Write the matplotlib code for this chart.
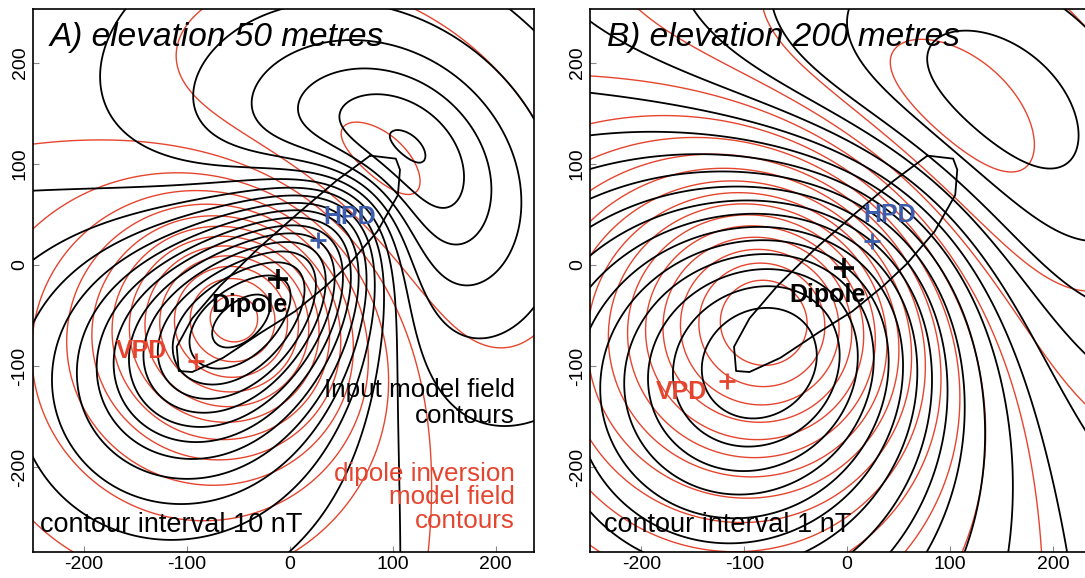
import numpy as np
import matplotlib
matplotlib.use("Agg")
import matplotlib.pyplot as plt
from matplotlib.path import Path

# outline of the input model body (metres)
body_x = [78, 103, 107, 105, 85, 58, 35, 5, -28, -65, -95, -108, -110, -95, -68, -32, 8, 45, 78]
body_y = [108, 105, 94, 69, 33, 1, -21, -46, -67, -92, -106, -105, -81, -53, -21, 15, 51, 83, 108]

# input model: thin plate, depth below ground at SW and NE ends (m)
body_depth_sw = 105
body_depth_ne = 60
body_inc = 35
# peak of the input model field at each elevation (nT)
body_peak = [125, 13]

# dipole inversion results, one per elevation
dip_x = [-20, -25]
dip_y = [-15, 5]
dip_depth = [135, 60]
dip_inc = [60, 52]
dip_peak = [115, 14]

# field direction (degrees)
field_inc = 60
field_dec = 42

panels = ["A) elevation 50 metres", "B) elevation 200 metres"]
elevations = [50, 200]
intervals = [10, 1]
interval_text = ["contour interval 10 nT", "contour interval 1 nT"]

dipole_marks = [(-12, -14), (-3, -3)]
hpd_marks = [(27, 25), (24, 24)]
vpd_marks = [(-91, -95), (-117, -115)]
dipole_text = [(-39, -40), (-19, -30)]
hpd_text = [(58, 47), (41, 49)]
vpd_text = [(-144, -85), (-161, -126)]

xlim = (-250, 237)
ylim = (-284, 253)

RED = "#e5452f"
BLUE = "#3b5bab"


def unit(i, d):
    i, d = np.radians(i), np.radians(d)
    return np.array([np.cos(i) * np.sin(d), np.cos(i) * np.cos(d), -np.sin(i)])


def dipole_tmi(xx, yy, z, x0, y0, depth, m_inc):
    m = unit(m_inc, field_dec)
    f = unit(field_inc, field_dec)
    rx, ry, rz = xx - x0, yy - y0, z + depth
    r2 = rx ** 2 + ry ** 2 + rz ** 2
    mr = m[0] * rx + m[1] * ry + m[2] * rz
    fr = f[0] * rx + f[1] * ry + f[2] * rz
    return (3 * mr * fr / r2 - m @ f) / r2 ** 1.5


gx = np.arange(xlim[0] - 5, xlim[1] + 6, 2.5)
gy = np.arange(ylim[0] - 5, ylim[1] + 6, 2.5)
XX, YY = np.meshgrid(gx, gy)

# points filling the body outline
body_path = Path(np.column_stack([body_x, body_y]))
px, py = np.meshgrid(np.arange(-115, 115, 5.0), np.arange(-110, 115, 5.0))
pts = np.column_stack([px.ravel(), py.ravel()])
pts = pts[body_path.contains_points(pts)]
axis_vec = np.array([205.0, 205.0])
t = np.clip(((pts - np.array([-105.0, -100.0])) @ axis_vec) / (axis_vec @ axis_vec), 0, 1)
pt_depth = body_depth_sw + (body_depth_ne - body_depth_sw) * t

plt.rcParams["font.family"] = ["Liberation Sans", "DejaVu Sans"]
plt.rcParams["axes.unicode_minus"] = False
fig = plt.figure(figsize=(10.85, 5.78), dpi=100)
W, H = 1085.0, 578.0
axes = [fig.add_axes([32.7 / W, 1 - 552 / H, 501 / W, 543 / H]),
        fig.add_axes([590 / W, 1 - 552 / H, 501 / W, 543 / H])]

for k, ax in enumerate(axes):
    z = elevations[k]
    black = np.zeros_like(XX)
    for (bx, by), d in zip(pts, pt_depth):
        black += dipole_tmi(XX, YY, z, bx, by, d, body_inc)
    black *= body_peak[k] / black.max()
    red = dipole_tmi(XX, YY, z, dip_x[k], dip_y[k], dip_depth[k], dip_inc[k])
    red *= dip_peak[k] / red.max()

    step = intervals[k]
    lv_b = np.arange(np.floor(black.min() / step) * step, black.max() + step, step)
    lv_r = np.arange(np.floor(red.min() / step) * step, red.max() + step, step)
    ax.contour(XX, YY, red, levels=lv_r, colors=RED, linewidths=1.0, linestyles="solid")
    ax.contour(XX, YY, black, levels=lv_b, colors="black", linewidths=1.3, linestyles="solid")
    ax.plot(body_x, body_y, color="black", lw=1.3)

    ax.plot(*dipole_marks[k], marker="+", ms=14, mew=2.6, color="black")
    ax.plot(*hpd_marks[k], marker="+", ms=12, mew=2.0, color=BLUE)
    ax.plot(*vpd_marks[k], marker="+", ms=12, mew=2.0, color=RED)
    ax.text(*dipole_text[k], "Dipole", fontsize=18, fontweight="bold", ha="center", va="center")
    ax.text(*hpd_text[k], "HPD", fontsize=18, fontweight="bold", color=BLUE, ha="center", va="center")
    ax.text(*vpd_text[k], "VPD", fontsize=18, fontweight="bold", color=RED, ha="center", va="center")

    ax.text(0.034, 0.947, panels[k], transform=ax.transAxes, fontsize=24, style="italic",
            ha="left", va="center")
    ax.text(0.015 if k == 0 else 0.028, 0.05, interval_text[k], transform=ax.transAxes,
            fontsize=19.5, ha="left", va="center")

    ax.set_xlim(xlim)
    ax.set_ylim(ylim)
    ax.set_xticks([-200, -100, 0, 100, 200])
    ax.set_yticks([-200, -100, 0, 100, 200])
    ax.tick_params(direction="in", length=4, width=0.8, color="#888888", labelsize=14, pad=3)
    ax.tick_params(axis="y", labelrotation=90)
    for lab in ax.get_yticklabels() + ax.get_xticklabels():
        lab.set_family(["Liberation Sans Narrow", "Liberation Sans"])
    for lab in ax.get_yticklabels():
        lab.set_va("center")
    for sp in ax.spines.values():
        sp.set_linewidth(1.2)

axes[0].text(0.963, 0.274, "Input model field\ncontours", transform=axes[0].transAxes,
             fontsize=18.7, ha="right", va="center", linespacing=1.1)
axes[0].text(0.963, 0.101, "dipole inversion\nmodel field\ncontours", transform=axes[0].transAxes,
             fontsize=18.7, color=RED, ha="right", va="center", linespacing=0.98)

fig.savefig("out.png", dpi=100)
